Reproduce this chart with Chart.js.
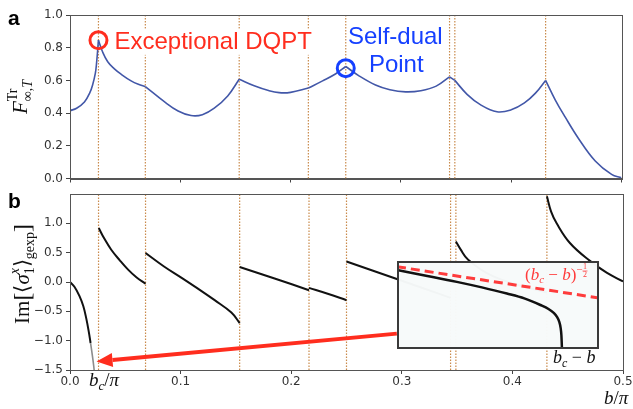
<!DOCTYPE html>
<html>
<head>
<meta charset="utf-8">
<script src="https://cdn.jsdelivr.net/npm/chart.js@4.4.1/dist/chart.umd.min.js"></script>
<style>
  html, body { margin: 0; padding: 0; background: #fff; }
  #wrap { position: relative; width: 633px; height: 409px; overflow: hidden; background: #fff; }
  canvas { position: absolute; }
</style>
</head>
<body>
<div id="wrap">
  <canvas id="panelA" width="633" height="190" style="left:0;top:0"></canvas>
  <canvas id="panelB" width="633" height="219" style="left:0;top:190px"></canvas>
  <canvas id="inset" width="202" height="88" style="left:397px;top:261px"></canvas>
</div>
<script>
// transition points (b/pi) - dotted verticals in both panels
const transitions = [0.0258, 0.0683, 0.1534, 0.2161, 0.25, 0.3441, 0.3489, 0.4312];

const xTicks = [0, 0.1, 0.2, 0.3, 0.4, 0.5];
const yTicksA = [0, 0.2, 0.4, 0.6, 0.8, 1.0];
const yTicksB = [-1.5, -1.0, -0.5, 0, 0.5, 1.0];

// panel a: F^Tr_{inf,T}
const fX = [0, 0.006, 0.0131, 0.018, 0.0206, 0.023, 0.024, 0.0258,
  0.0295, 0.0342, 0.04, 0.0463, 0.0554, 0.062, 0.0683,
  0.0855, 0.098, 0.1097, 0.12, 0.1308, 0.143, 0.1534,
  0.167, 0.18, 0.1896, 0.2, 0.2161,
  0.229, 0.241, 0.25,
  0.262, 0.277, 0.29, 0.3043, 0.318, 0.332, 0.3441,
  0.3489,
  0.36, 0.372, 0.3871, 0.40, 0.412, 0.422, 0.4312,
  0.44, 0.449, 0.461, 0.4762, 0.491, 0.5];
const fY = [0.415, 0.43, 0.468, 0.525, 0.575, 0.645, 0.70, 0.846,
  0.775, 0.714, 0.672, 0.638, 0.597, 0.576, 0.562,
  0.47, 0.413, 0.385, 0.39, 0.43, 0.505, 0.607,
  0.567, 0.538, 0.525, 0.527, 0.553,
  0.597, 0.641, 0.685,
  0.628, 0.572, 0.543, 0.53, 0.537, 0.565, 0.622,
  0.60,
  0.515, 0.452, 0.408, 0.42, 0.462, 0.522, 0.60,
  0.48, 0.375, 0.245, 0.107, 0.025, 0.004];

// circled points in panel a
const markerX = [0.0258, 0.25];
const markerY = [0.846, 0.675];

// panel b: Im<sigma> branches
const imSegX = [
  [0, 0.004, 0.0086, 0.012, 0.0147, 0.017, 0.0186],
  [0.026, 0.031, 0.0373, 0.045, 0.0523, 0.06, 0.0683],
  [0.0683, 0.085, 0.1006, 0.115, 0.1308, 0.1459, 0.1534],
  [0.1534, 0.185, 0.2161],
  [0.2161, 0.233, 0.25],
  [0.25, 0.2955, 0.32, 0.3441],
  [0.3489, 0.353, 0.36, 0.38, 0.405, 0.4312],
  [0.4312, 0.435, 0.44, 0.452, 0.4701, 0.4852, 0.5]
];
const imSegY = [
  [0, -0.08, -0.24, -0.41, -0.62, -0.85, -1.04],
  [0.92, 0.74, 0.55, 0.37, 0.215, 0.08, -0.03],
  [0.495, 0.265, 0.075, -0.105, -0.31, -0.52, -0.70],
  [0.256, 0.06, -0.14],
  [-0.10, -0.20, -0.31],
  [0.35, 0.05, -0.11, -0.27],
  [0.69, 0.56, 0.38, 0.12, -0.05, -0.18],
  [1.46, 1.2, 1.0, 0.665, 0.36, 0.16, 0.01]
];
// grey tail of the first branch near b_c
const imTailX = [0.0186, 0.0202, 0.0215, 0.0221];
const imTailY = [-1.04, -1.25, -1.44, -1.56];

// red arrow from inset to b_c
const arrowFrom = [0.2955, -0.88];
const arrowTo = [0.024, -1.355];

// inset (arbitrary units 0..1)
const insetX = [0, 0.15, 0.296, 0.42, 0.544, 0.63, 0.71, 0.75, 0.776, 0.792, 0.803, 0.81, 0.814, 0.817];
const insetY = [0.897, 0.83, 0.763, 0.70, 0.63, 0.575, 0.50, 0.455, 0.41, 0.365, 0.31, 0.24, 0.15, -0.02];
const powerLawX = [0, 1];
const powerLawY = [0.935, 0.58];

const RED = '#ff2d1e';
const BLUE = '#1540ff';
const CURVE = '#4257a8';
const DOTS = '#c98a4b';
const FRAME = '#555';
const TICKFONT = { family: 'DejaVu Sans', size: 12 };
const SERIF = 'Liberation Serif';

const pts = (xs, ys) => xs.map((x, i) => ({ x, y: ys[i] }));

// split a curve at the transition points so cusps stay sharp
function splitAt(xs, ys, cuts) {
  const arcs = [];
  let cur = [];
  xs.forEach((x, i) => {
    cur.push({ x, y: ys[i] });
    if (cuts.includes(x) && cur.length > 1) {
      arcs.push(cur);
      cur = [{ x, y: ys[i] }];
    }
  });
  if (cur.length > 1) arcs.push(cur);
  return arcs;
}

// ---- rich text (sub/superscripts) ----
function runsWidth(ctx, runs) {
  return runs.reduce((w, r) => { ctx.font = r.f; return w + ctx.measureText(r.t).width; }, 0);
}
function partWidth(ctx, p) {
  if (p.stack) return Math.max(...p.stack.map(rs => runsWidth(ctx, rs)));
  if (p.frac) { ctx.font = p.f; return Math.max(...p.frac.map(t => ctx.measureText(t).width)) + 1; }
  return runsWidth(ctx, [p]);
}
function drawRich(ctx, parts, x, y, rot, align, color) {
  ctx.save();
  ctx.translate(x, y);
  ctx.rotate(rot);
  ctx.fillStyle = color;
  ctx.strokeStyle = color;
  ctx.textBaseline = 'alphabetic';
  ctx.textAlign = 'left';
  const total = parts.reduce((w, p) => w + partWidth(ctx, p), 0);
  let cx = align === 'center' ? -total / 2 : 0;
  for (const p of parts) {
    const w = partWidth(ctx, p);
    if (p.stack) {
      p.stack.forEach(rs => {
        let sx = cx;
        rs.forEach(r => { ctx.font = r.f; ctx.fillText(r.t, sx, r.dy || 0); sx += ctx.measureText(r.t).width; });
      });
    } else if (p.frac) {
      ctx.font = p.f;
      ctx.textAlign = 'center';
      ctx.fillText(p.frac[0], cx + w / 2, p.dy[0]);
      ctx.fillText(p.frac[1], cx + w / 2, p.dy[1]);
      ctx.textAlign = 'left';
      ctx.lineWidth = 0.7;
      ctx.beginPath();
      ctx.moveTo(cx, p.bar);
      ctx.lineTo(cx + w, p.bar);
      ctx.stroke();
    } else {
      ctx.font = p.f;
      ctx.fillText(p.t, cx, p.dy || 0);
    }
    cx += w;
  }
  ctx.restore();
}

// ---- axes ----
function xAxis(showLabels, height) {
  return {
    type: 'linear', min: 0, max: 0.5,
    afterBuildTicks: s => { s.ticks = xTicks.map(v => ({ value: v })); },
    afterFit: s => { s.height = height; s.paddingLeft = 0; s.paddingRight = 0; },
    grid: { drawOnChartArea: false, drawTicks: true, tickLength: 4, tickColor: '#444' },
    border: { color: FRAME, width: 1 },
    ticks: { display: showLabels, padding: 1, color: '#333', font: TICKFONT, maxRotation: 0,
      callback: v => v.toFixed(1) }
  };
}
function yAxis(min, max, ticks) {
  return {
    type: 'linear', min, max,
    afterBuildTicks: s => { s.ticks = ticks.map(v => ({ value: v })); },
    afterFit: s => { s.width = 70; s.paddingTop = 0; s.paddingBottom = 0; },
    grid: { drawOnChartArea: false, drawTicks: true, tickLength: 4, tickColor: '#444' },
    border: { color: FRAME, width: 1 },
    ticks: { padding: 3, color: '#333', font: TICKFONT,
      callback: v => (v < 0 ? '\u2212' : '') + Math.abs(v).toFixed(1) }
  };
}

const framePlugin = {
  id: 'frame',
  afterDraw(chart) {
    const { ctx, chartArea: a } = chart;
    ctx.save();
    ctx.strokeStyle = FRAME;
    ctx.lineWidth = 1;
    ctx.strokeRect(Math.round(a.left) + 0.5, Math.round(a.top) + 0.5,
      Math.round(a.right - a.left), Math.round(a.bottom - a.top));
    ctx.restore();
  }
};

function vlines(ymin, ymax) {
  return transitions.map(t => ({
    data: [{ x: t, y: ymin }, { x: t, y: ymax }],
    pointRadius: 0, borderColor: DOTS, borderWidth: 1.2, tension: 0,
    borderDash: [1.5, 1.5], order: 5
  }));
}

const common = {
  responsive: false, animation: false, events: [],
  plugins: { legend: { display: false }, tooltip: { enabled: false } }
};

// ---- panel a ----
new Chart(document.getElementById('panelA'), {
  type: 'line',
  data: {
    datasets: [
      ...vlines(0, 1),
      ...splitAt(fX, fY, transitions).map(arc => ({
        data: arc, pointRadius: 0, borderColor: CURVE, borderWidth: 1.6,
        tension: 0.4, order: 2
      })),
      {
        data: pts(markerX, markerY), showLine: false, pointRadius: 8.5, pointBorderWidth: 3,
        pointBorderColor: [RED, BLUE], pointBackgroundColor: 'rgba(0,0,0,0)', order: 0, clip: false
      }
    ]
  },
  options: {
    ...common,
    layout: { padding: { left: 0, right: 10, top: 15, bottom: 0 } },
    scales: { x: xAxis(false, 5), y: yAxis(0, 1, yTicksA) }
  },
  plugins: [framePlugin, {
    id: 'notesA',
    afterDraw(chart) {
      const { ctx, scales: { x, y } } = chart;
      ctx.save();
      ctx.font = '24px "Liberation Sans", Arial, sans-serif';
      const tx = x.getPixelForValue(0.0403), ty = y.getPixelForValue(0.793);
      const w = ctx.measureText('Exceptional DQPT').width;
      ctx.fillStyle = '#fff';
      ctx.fillRect(tx - 2, ty - 20, w + 4, 26);
      ctx.fillStyle = RED;
      ctx.fillText('Exceptional DQPT', tx, ty);
      ctx.fillStyle = BLUE;
      ctx.fillText('Self-dual', x.getPixelForValue(0.252), y.getPixelForValue(0.822));
      ctx.fillText('Point', x.getPixelForValue(0.271), y.getPixelForValue(0.652));
      ctx.fillStyle = '#000';
      ctx.font = 'bold 21px "Liberation Sans", Arial, sans-serif';
      ctx.fillText('a', 8, 25);
      ctx.restore();
      const it = 'italic 21px ' + SERIF, sm = '14px ' + SERIF, smi = 'italic 14px ' + SERIF;
      drawRich(ctx, [
        { t: 'F', f: it },
        { stack: [[{ t: 'Tr', f: sm, dy: -10 }], [{ t: '\u221E,', f: sm, dy: 5 }, { t: 'T', f: smi, dy: 5 }]] }
      ], 27, 97, -Math.PI / 2, 'center', '#111');
    }
  }]
});

// ---- panel b ----
new Chart(document.getElementById('panelB'), {
  type: 'line',
  data: {
    datasets: [
      ...vlines(-1.5, 1.5),
      ...imSegX.map((xs, i) => ({
        data: pts(xs, imSegY[i]), pointRadius: 0, borderColor: '#111', borderWidth: 2,
        tension: 0.4, order: 1
      })),
      {
        data: pts(imTailX, imTailY), pointRadius: 0, borderColor: '#8c8c8c', borderWidth: 1.6,
        tension: 0.4, order: 1
      }
    ]
  },
  options: {
    ...common,
    layout: { padding: { left: 0, right: 10, top: 4, bottom: 0 } },
    scales: { x: xAxis(true, 39), y: yAxis(-1.5, 1.5, yTicksB) }
  },
  plugins: [framePlugin, {
    id: 'notesB',
    afterDraw(chart) {
      const { ctx, scales: { x, y } } = chart;
      // arrow
      const x0 = x.getPixelForValue(arrowFrom[0]), y0 = y.getPixelForValue(arrowFrom[1]);
      const x1 = x.getPixelForValue(arrowTo[0]), y1 = y.getPixelForValue(arrowTo[1]);
      const ang = Math.atan2(y1 - y0, x1 - x0), head = 16, hw = 7;
      const bx = x1 - head * Math.cos(ang), by = y1 - head * Math.sin(ang);
      ctx.save();
      ctx.strokeStyle = RED; ctx.fillStyle = RED; ctx.lineWidth = 4;
      ctx.beginPath(); ctx.moveTo(x0, y0); ctx.lineTo(bx, by); ctx.stroke();
      ctx.beginPath();
      ctx.moveTo(x1, y1);
      ctx.lineTo(bx + hw * Math.sin(ang), by - hw * Math.cos(ang));
      ctx.lineTo(bx - hw * Math.sin(ang), by + hw * Math.cos(ang));
      ctx.closePath(); ctx.fill();
      ctx.fillStyle = '#000';
      ctx.font = 'bold 21px "Liberation Sans", Arial, sans-serif';
      ctx.fillText('b', 8, 18);
      ctx.restore();

      const it = 'italic 19px ' + SERIF, sub = 'italic 13px ' + SERIF, rm = '19px ' + SERIF;
      drawRich(ctx, [{ t: 'b', f: it }, { t: 'c', f: sub, dy: 4 }, { t: '/', f: rm }, { t: '\u03C0', f: it }],
        89, 196, 0, 'left', '#111');
      drawRich(ctx, [{ t: 'b', f: it }, { t: '/', f: rm }, { t: '\u03C0', f: it }],
        604, 214, 0, 'left', '#111');
      const it18 = 'italic 18px ' + SERIF, sub12 = 'italic 12px ' + SERIF, rm18 = '18px ' + SERIF;
      drawRich(ctx, [{ t: 'b', f: it18 }, { t: 'c', f: sub12, dy: 4 }, { t: ' \u2212 ', f: rm18 }, { t: 'b', f: it18 }],
        553, 173, 0, 'left', '#111');

      const big = '21px ' + SERIF, bigi = 'italic 21px ' + SERIF, br = '24px ' + SERIF;
      const s14 = '14px ' + SERIF, s14i = 'italic 14px ' + SERIF;
      drawRich(ctx, [
        { t: 'Im', f: big },
        { t: '[', f: br, dy: 1 },
        { t: '\u27E8', f: big },
        { t: '\u03C3', f: bigi },
        { stack: [[{ t: 'x', f: s14i, dy: -10 }], [{ t: '1', f: s14, dy: 5 }]] },
        { t: '\u27E9', f: big },
        { t: 'gexp', f: s14, dy: 5 },
        { t: ']', f: br, dy: 1 }
      ], 29, 84, -Math.PI / 2, 'center', '#111');
    }
  }]
});

// ---- inset ----
new Chart(document.getElementById('inset'), {
  type: 'line',
  data: {
    datasets: [
      {
        data: pts(powerLawX, powerLawY), pointRadius: 0, borderColor: 'rgba(255,40,40,0.9)',
        borderWidth: 3, borderDash: [9, 5], order: 0
      },
      {
        data: pts(insetX, insetY), pointRadius: 0, borderColor: '#111', borderWidth: 2.5,
        cubicInterpolationMode: 'monotone', order: 1
      }
    ]
  },
  options: {
    ...common,
    layout: { padding: 0 },
    scales: {
      x: { type: 'linear', display: false, min: 0, max: 1 },
      y: { type: 'linear', display: false, min: 0, max: 1 }
    }
  },
  plugins: [{
    id: 'insetBox',
    beforeDraw(chart) {
      const { ctx, width, height } = chart;
      ctx.save();
      ctx.fillStyle = 'rgba(247,250,250,0.975)';
      ctx.fillRect(0, 0, width, height);
      ctx.restore();
    },
    afterDraw(chart) {
      const { ctx, width, height } = chart;
      const f = 'italic 17px ' + SERIF, r = '17px ' + SERIF, s = 'italic 11px ' + SERIF;
      drawRich(ctx, [
        { t: '(', f: r }, { t: 'b', f }, { t: 'c', f: s, dy: 3 }, { t: ' \u2212 ', f: r },
        { t: 'b', f }, { t: ')', f: r }, { t: '\u2212', f: '11px ' + SERIF, dy: -7 },
        { frac: ['1', '2'], f: '8px ' + SERIF, dy: [-11, -3], bar: -9 }
      ], 128, 19, 0, 'left', '#ff3b3b');
      ctx.save();
      ctx.strokeStyle = '#3a3a3a';
      ctx.lineWidth = 2;
      ctx.strokeRect(1, 1, width - 2, height - 2);
      ctx.restore();
    }
  }]
});
</script>
</body>
</html>
